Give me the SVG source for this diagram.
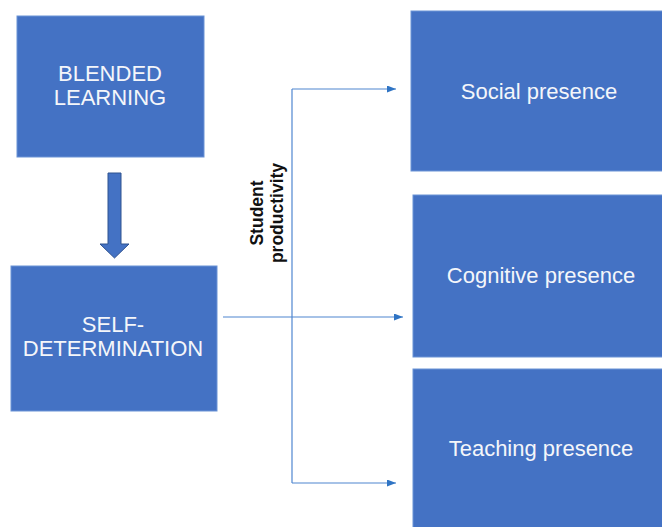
<svg xmlns="http://www.w3.org/2000/svg" width="662" height="527" viewBox="0 0 662 527">
  <defs>
    <style>
      .box { fill: #4472C4; stroke: #6A93D6; stroke-width: 1; }
      .lbl { font-family: "Liberation Sans", Arial, sans-serif; font-size: 22px; fill: #F4F6FA; text-anchor: middle; }
      .conn { stroke: #4F86D0; stroke-width: 1.2; fill: none; }
      .side { font-family: "Liberation Sans", Arial, sans-serif; font-size: 17.5px; font-weight: bold; fill: #111111; text-anchor: middle; }
    </style>
    <marker id="ah" markerWidth="10" markerHeight="8" refX="9" refY="3.5" orient="auto" markerUnits="userSpaceOnUse">
      <path d="M0,0 L9,3.5 L0,7 Z" fill="#2F74C4"/>
    </marker>
  </defs>
  <rect width="662" height="527" fill="#FFFFFF"/>

  <g id="connectors">
    <line class="conn" x1="292" y1="89" x2="292" y2="483"/>
    <line class="conn" x1="292" y1="89" x2="396" y2="89" marker-end="url(#ah)"/>
    <line class="conn" x1="223" y1="317" x2="403" y2="317" marker-end="url(#ah)"/>
    <line class="conn" x1="292" y1="483" x2="396" y2="483" marker-end="url(#ah)"/>
    <path id="block-arrow" d="M108,173 L121,173 L121,244 L129,244 L114.5,258 L100,244 L108,244 Z" fill="#4472C4" stroke="#2F528F" stroke-width="1"/>
  </g>

  <g id="blended-learning">
    <rect class="box" x="17" y="16" width="187" height="141"/>
    <text class="lbl" x="110" y="81">BLENDED</text>
    <text class="lbl" x="110" y="105">LEARNING</text>
  </g>

  <g id="self-determination">
    <rect class="box" x="11" y="266" width="206" height="145"/>
    <text class="lbl" x="113" y="332">SELF-</text>
    <text class="lbl" x="113" y="356">DETERMINATION</text>
  </g>

  <g id="student-productivity">
    <g transform="translate(0,213) rotate(-90)">
      <text class="side" x="0" y="263">Student</text>
      <text class="side" x="0" y="283">productivity</text>
    </g>
  </g>

  <g id="social-presence">
    <rect class="box" x="411" y="11" width="260" height="160"/>
    <text class="lbl" x="539" y="99">Social presence</text>
  </g>

  <g id="cognitive-presence">
    <rect class="box" x="413" y="195" width="260" height="162"/>
    <text class="lbl" x="541" y="283">Cognitive presence</text>
  </g>

  <g id="teaching-presence">
    <rect class="box" x="413" y="369" width="260" height="170"/>
    <text class="lbl" x="541" y="456">Teaching presence</text>
  </g>
</svg>
